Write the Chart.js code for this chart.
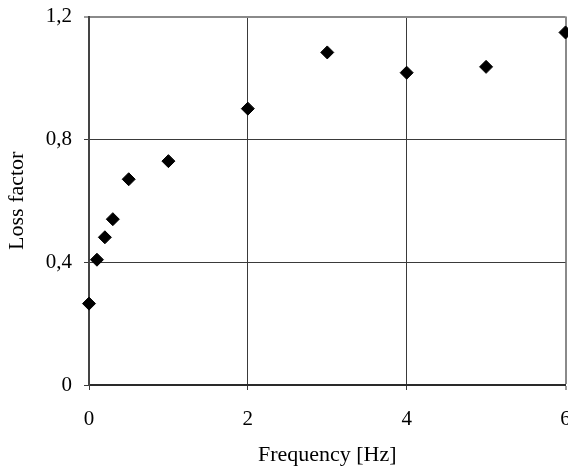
<!DOCTYPE html>
<html>
<head>
<meta charset="utf-8">
<script src="https://cdn.jsdelivr.net/npm/chart.js@4/dist/chart.umd.min.js"></script>
<style>
  html, body { margin: 0; padding: 0; background: #fff; overflow: hidden; }
  #wrap { width: 573px; height: 475px; }
</style>
</head>
<body>
<div id="wrap"><canvas id="loss"></canvas></div>
<script>
// frequency [Hz] vs loss factor
const freq = [0, 0.1, 0.2, 0.3, 0.5, 1, 2, 3, 4, 5, 6];
const loss = [0.265, 0.408, 0.481, 0.540, 0.670, 0.729, 0.900, 1.083, 1.017, 1.036, 1.148];

const xTicks = [0, 2, 4, 6];
const yTicks = [0, 0.4, 0.8, 1.2];

const family = "'Liberation Serif', 'Times New Roman', serif";
const tickFont = { family, size: 21 };
const titleFont = { family, size: 22 };

const comma = v => (Math.round(v * 10) / 10).toString().replace('.', ',');
const isLast = (v, list) => Math.abs(v - list[list.length - 1]) < 1e-6;

const ctx = document.getElementById('loss');

new Chart(ctx, {
    type: 'scatter',
    data: {
        datasets: [{
            label: 'Loss factor',
            data: freq.map((f, i) => ({ x: f, y: loss[i] })),
            pointStyle: 'rectRot',
            pointRadius: 6.5,
            pointHoverRadius: 6.5,
            backgroundColor: '#000',
            borderColor: '#000',
            borderWidth: 1,
            clip: false
        }]
    },
    options: {
        responsive: true,
        maintainAspectRatio: false,
        animation: false,
        events: [],
        layout: { padding: { top: 16.5, right: 2, bottom: 0, left: 0 } },
        plugins: {
            legend: { display: false },
            tooltip: { enabled: false }
        },
        scales: {
            x: {
                type: 'linear',
                min: 0,
                max: 6,
                afterBuildTicks: s => { s.ticks = xTicks.map(v => ({ value: v })); },
                // the page is cut at 568px, so the last label runs off the edge like the original
                afterFit: s => { s.height = 90; s.paddingRight = 0; s.paddingLeft = 0; },
                ticks: { font: tickFont, color: '#000', padding: 17, callback: v => comma(v) },
                grid: {
                    color: c => isLast(c.tick.value, xTicks) ? '#8a8a8a' : '#3a3a3a',
                    lineWidth: c => isLast(c.tick.value, xTicks) ? 2 : 1,
                    tickColor: '#3a3a3a',
                    tickWidth: 1,
                    tickLength: 5
                },
                border: { color: '#2a2a2a', width: 2 },
                title: { display: true, text: 'Frequency [Hz]', font: titleFont, color: '#000', padding: { bottom: 7 } }
            },
            y: {
                min: 0,
                max: 1.2,
                afterBuildTicks: s => { s.ticks = yTicks.map(v => ({ value: v })); },
                afterFit: s => { s.width = 89; s.paddingTop = 0; s.paddingBottom = 0; },
                ticks: { font: tickFont, color: '#000', padding: 12, callback: v => comma(v) },
                grid: {
                    color: c => isLast(c.tick.value, yTicks) ? '#8a8a8a' : '#3a3a3a',
                    lineWidth: c => isLast(c.tick.value, yTicks) ? 2 : 1,
                    tickColor: '#3a3a3a',
                    tickWidth: 1,
                    tickLength: 5
                },
                border: { color: '#444', width: 2 },
                title: { display: true, text: 'Loss factor', font: titleFont, color: '#000', padding: { top: 4 } }
            }
        }
    }
});
</script>
</body>
</html>
